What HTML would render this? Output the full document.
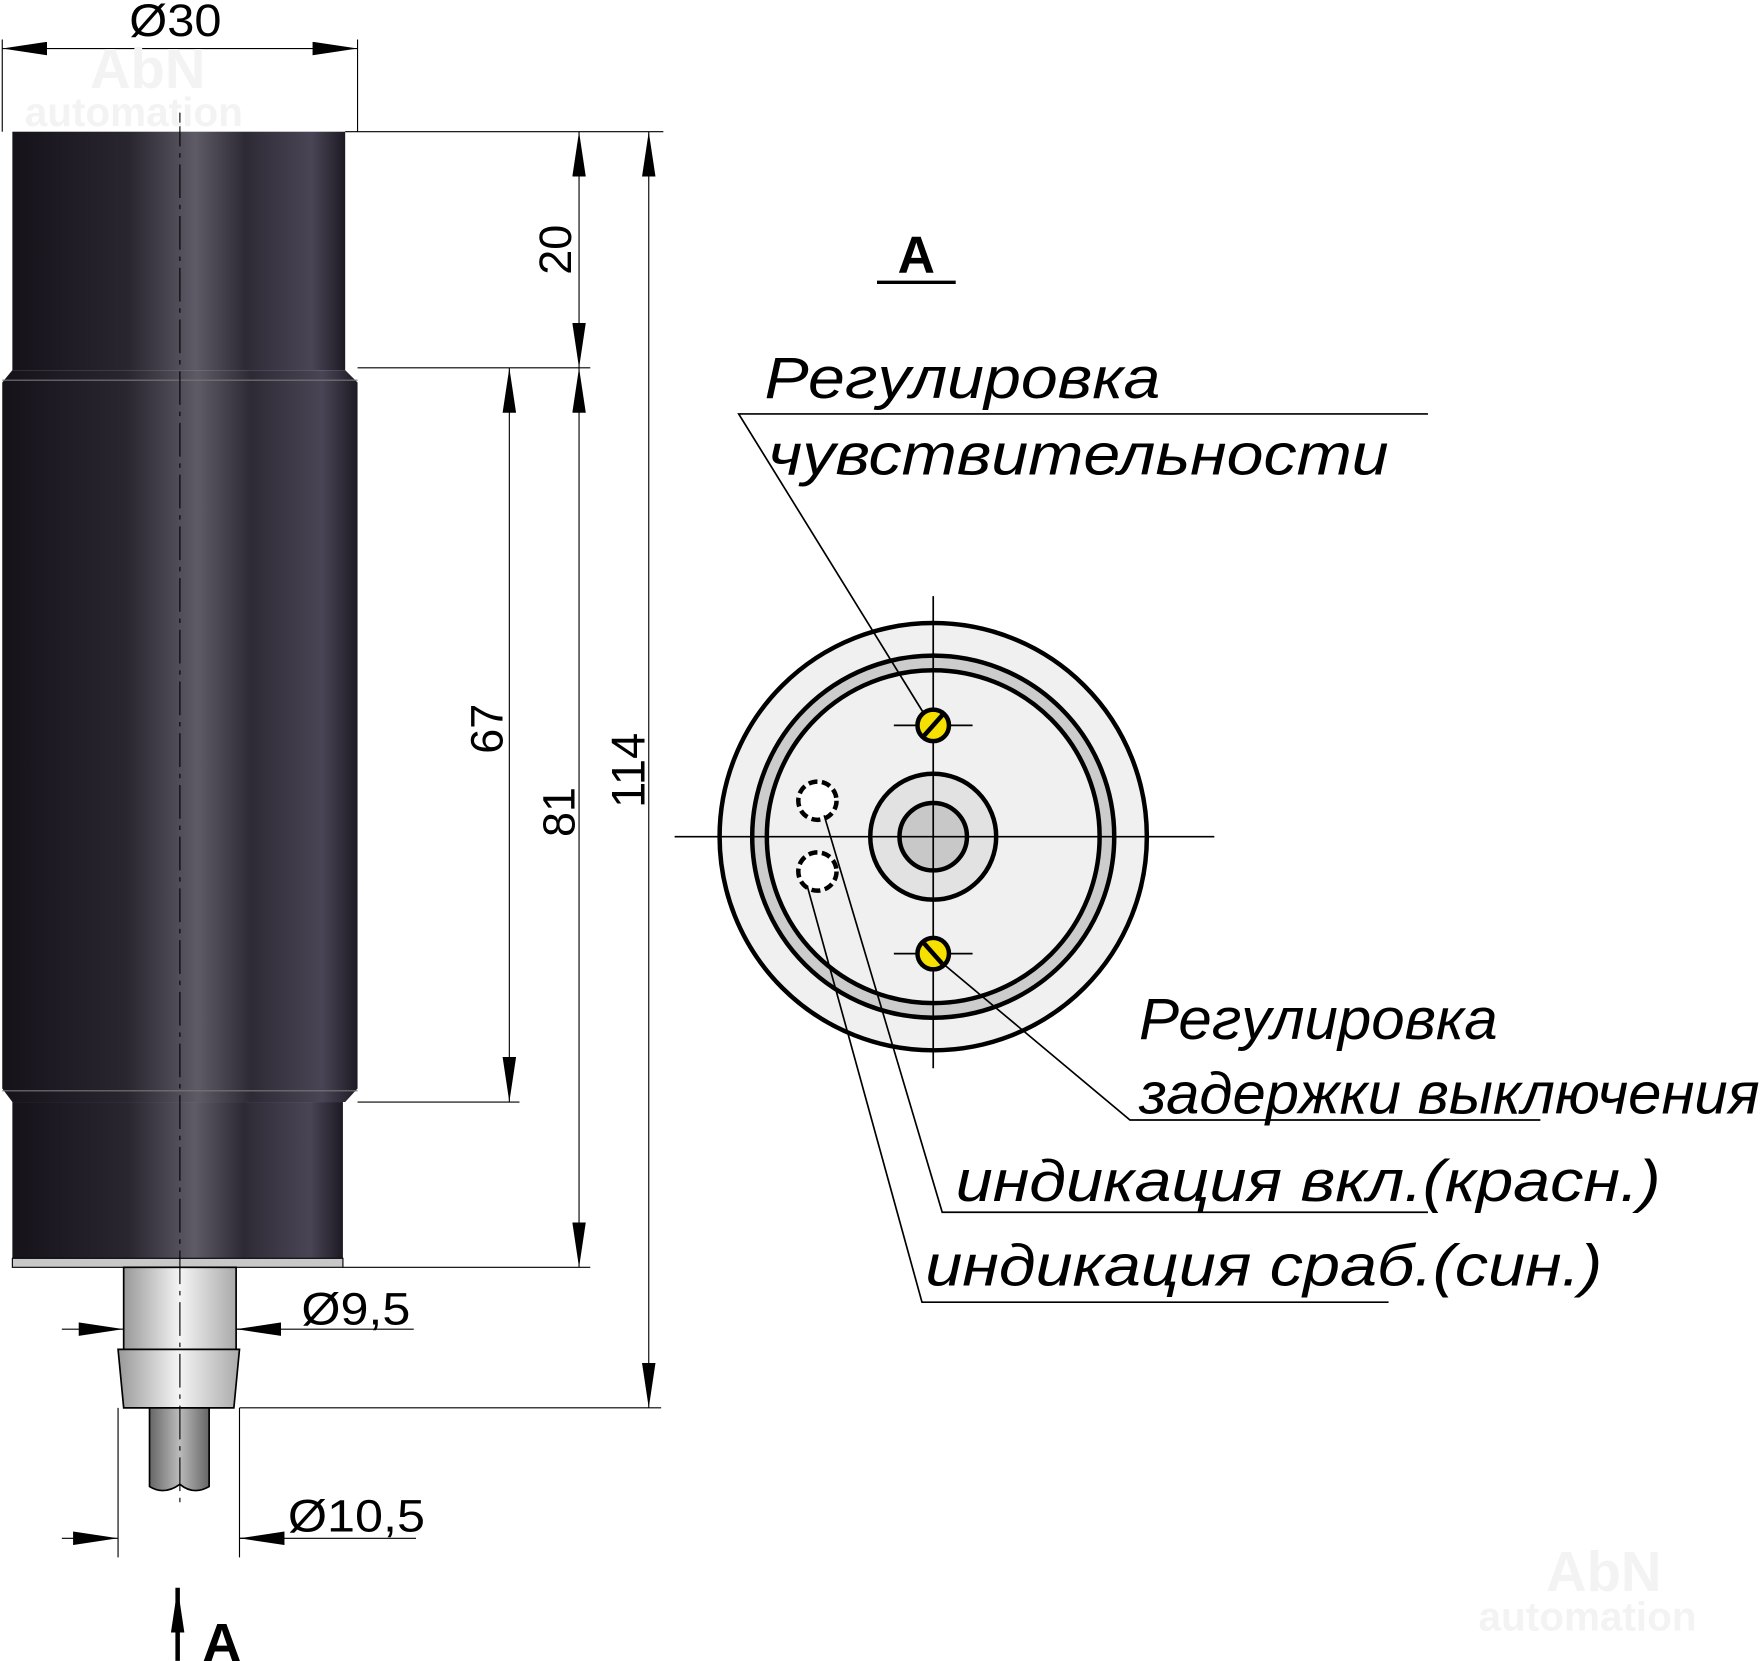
<!DOCTYPE html>
<html><head><meta charset="utf-8"><style>html,body{margin:0;padding:0;background:#fff}svg{display:block}</style></head>
<body>
<svg width="1763" height="1661" viewBox="0 0 1568 1477" xmlns="http://www.w3.org/2000/svg" font-family="Liberation Sans, sans-serif">
<defs>
<linearGradient id="cyl" x1="0" x2="1" y1="0" y2="0">
<stop offset="0" stop-color="#15121a"/><stop offset="0.35" stop-color="#2a2630"/>
<stop offset="0.55" stop-color="#5e5a66"/><stop offset="0.7" stop-color="#2e2a35"/>
<stop offset="0.9" stop-color="#4a4555"/><stop offset="1" stop-color="#1e1a24"/>
</linearGradient>
<linearGradient id="met" x1="0" x2="1"><stop offset="0" stop-color="#999"/><stop offset="0.5" stop-color="#f4f4f4"/><stop offset="1" stop-color="#aaa"/></linearGradient>
<linearGradient id="cab" x1="0" x2="1"><stop offset="0" stop-color="#666"/><stop offset="0.5" stop-color="#bbb"/><stop offset="1" stop-color="#666"/></linearGradient>
<marker id="ar" viewBox="0 0 40 12" refX="40" refY="6" markerWidth="40" markerHeight="12" markerUnits="userSpaceOnUse" orient="auto-start-reverse"><path d="M0,0 L40,6 L0,12 z" fill="#000"/></marker>
</defs>
<rect x="11" y="117" width="296" height="212" fill="url(#cyl)"/>
<path d="M11,329 L307,329 L318,340 L318,968 L307,980 L11,980 L2,968 L2,340 Z" fill="url(#cyl)"/>
<rect x="11" y="980" width="294" height="140" fill="url(#cyl)"/>
<line x1="2" y1="338" x2="318" y2="338" stroke="#777" stroke-width="1"/>
<line x1="2" y1="970" x2="318" y2="970" stroke="#777" stroke-width="1"/>
<rect x="11" y="1119" width="294" height="8" fill="#c8c8c8" stroke="#000" stroke-width="1"/>
<rect x="110" y="1127" width="100" height="73" fill="url(#met)" stroke="#000" stroke-width="1.5"/>
<path d="M105,1200 L213,1200 L208,1252 L110,1252 Z" fill="url(#met)" stroke="#000" stroke-width="1.5"/>
<path d="M133,1252 L186,1252 L186,1322 Q172,1330 160,1320 Q146,1330 133,1322 Z" fill="url(#cab)" stroke="#000" stroke-width="1.5"/>
<line x1="160" y1="100" x2="160" y2="1340" stroke="#000" stroke-width="1" stroke-dasharray="30,6,4,6"/>
<g stroke="#000" stroke-width="1" fill="none">
<line x1="2" y1="35" x2="2" y2="117"/><line x1="318" y1="35" x2="318" y2="117"/>
<line x1="307" y1="117" x2="590" y2="117"/><line x1="318" y1="327" x2="525" y2="327"/>
<line x1="318" y1="980" x2="462" y2="980"/><line x1="305" y1="1127" x2="525" y2="1127"/>
<line x1="213" y1="1252" x2="588" y2="1252"/>
<line x1="105" y1="1252" x2="105" y2="1385"/><line x1="213" y1="1252" x2="213" y2="1385"/>
<line x1="2" y1="43" x2="318" y2="43" marker-start="url(#ar)" marker-end="url(#ar)"/>
<line x1="515" y1="117" x2="515" y2="327" marker-start="url(#ar)" marker-end="url(#ar)"/>
<line x1="453" y1="327" x2="453" y2="980" marker-start="url(#ar)" marker-end="url(#ar)"/>
<line x1="515" y1="327" x2="515" y2="1127" marker-start="url(#ar)" marker-end="url(#ar)"/>
<line x1="577" y1="117" x2="577" y2="1252" marker-start="url(#ar)" marker-end="url(#ar)"/>
<line x1="55" y1="1182" x2="110" y2="1182" marker-end="url(#ar)"/>
<line x1="250" y1="1182" x2="210" y2="1182" marker-end="url(#ar)"/>
<line x1="210" y1="1182" x2="368" y2="1182"/>
<line x1="55" y1="1368" x2="105" y2="1368" marker-end="url(#ar)"/>
<line x1="253" y1="1368" x2="213" y2="1368" marker-end="url(#ar)"/>
<line x1="213" y1="1368" x2="370" y2="1368"/>
</g>
<line x1="158" y1="1477" x2="158" y2="1412" stroke="#000" stroke-width="4" marker-end="url(#ar)"/>
<g font-size="40" fill="#000">
<text x="115" y="32" textLength="82" lengthAdjust="spacingAndGlyphs">Ø30</text>
<text x="268" y="1178" textLength="97" lengthAdjust="spacingAndGlyphs">Ø9,5</text>
<text x="256" y="1362" textLength="122" lengthAdjust="spacingAndGlyphs">Ø10,5</text>
<text transform="translate(508,222) rotate(-90)" text-anchor="middle">20</text>
<text transform="translate(447,648) rotate(-90)" text-anchor="middle">67</text>
<text transform="translate(511,722) rotate(-90)" text-anchor="middle">81</text>
<text transform="translate(573,685) rotate(-90)" text-anchor="middle" font-size="42">114</text>
</g>
<text x="180" y="1477" font-size="48" font-weight="bold">A</text>
<text x="815" y="242" font-size="46" font-weight="bold" text-anchor="middle">A</text>
<line x1="780" y1="251" x2="850" y2="251" stroke="#000" stroke-width="3"/>
<circle cx="830" cy="744" r="190" fill="#f0f0f0" stroke="#000" stroke-width="4"/>
<circle cx="830" cy="744" r="155" fill="none" stroke="#ccc" stroke-width="10"/>
<circle cx="830" cy="744" r="161" fill="none" stroke="#000" stroke-width="4"/>
<circle cx="830" cy="744" r="148" fill="#f0f0f0" stroke="#000" stroke-width="4"/>
<circle cx="830" cy="744" r="56" fill="#e2e2e2" stroke="#000" stroke-width="4"/>
<circle cx="830" cy="744" r="30" fill="#c8c8c8" stroke="#000" stroke-width="4"/>
<g stroke="#000" stroke-width="1.5">
<line x1="600" y1="744" x2="1080" y2="744"/>
<line x1="830" y1="530" x2="830" y2="950"/>
<line x1="795" y1="645" x2="865" y2="645"/><line x1="795" y1="848" x2="865" y2="848"/>
</g>
<circle cx="830" cy="645" r="14" fill="#f5e000" stroke="#000" stroke-width="4"/>
<line x1="822" y1="654" x2="838" y2="636" stroke="#000" stroke-width="4"/>
<circle cx="830" cy="848" r="14" fill="#f5e000" stroke="#000" stroke-width="4"/>
<line x1="822" y1="839" x2="838" y2="857" stroke="#000" stroke-width="4"/>
<circle cx="727" cy="712" r="17" fill="#fff" stroke="#000" stroke-width="4" stroke-dasharray="8,4"/>
<circle cx="727" cy="775" r="17" fill="#fff" stroke="#000" stroke-width="4" stroke-dasharray="8,4"/>
<g stroke="#000" stroke-width="1.5" fill="none">
<polyline points="1270,368 657,368 822,635"/>
<polyline points="1370,996 1005,996 840,858"/>
<polyline points="1270,1078 838,1078 733,725"/>
<polyline points="1235,1158 820,1158 718,788"/>
</g>
<g font-size="52" font-style="italic" fill="#000" lengthAdjust="spacingAndGlyphs">
<text x="680" y="354" textLength="352" lengthAdjust="spacingAndGlyphs">Регулировка</text>
<text x="683" y="422" textLength="552" lengthAdjust="spacingAndGlyphs">чувствительности</text>
<text x="1013" y="924" textLength="319" lengthAdjust="spacingAndGlyphs">Регулировка</text>
<text x="1013" y="990" textLength="552" lengthAdjust="spacingAndGlyphs">задержки выключения</text>
<text x="850" y="1068" textLength="627" lengthAdjust="spacingAndGlyphs">индикация вкл.(красн.)</text>
<text x="823" y="1143" textLength="602" lengthAdjust="spacingAndGlyphs">индикация сраб.(син.)</text>
</g>
<g font-weight="bold" fill="#f3f3f3">
<text x="80" y="78" font-size="50">AbN</text><text x="22" y="112" font-size="36">automation</text>
<text x="1375" y="1415" font-size="50">AbN</text><text x="1315" y="1450" font-size="36">automation</text>
</g>
</svg>
</body></html>
